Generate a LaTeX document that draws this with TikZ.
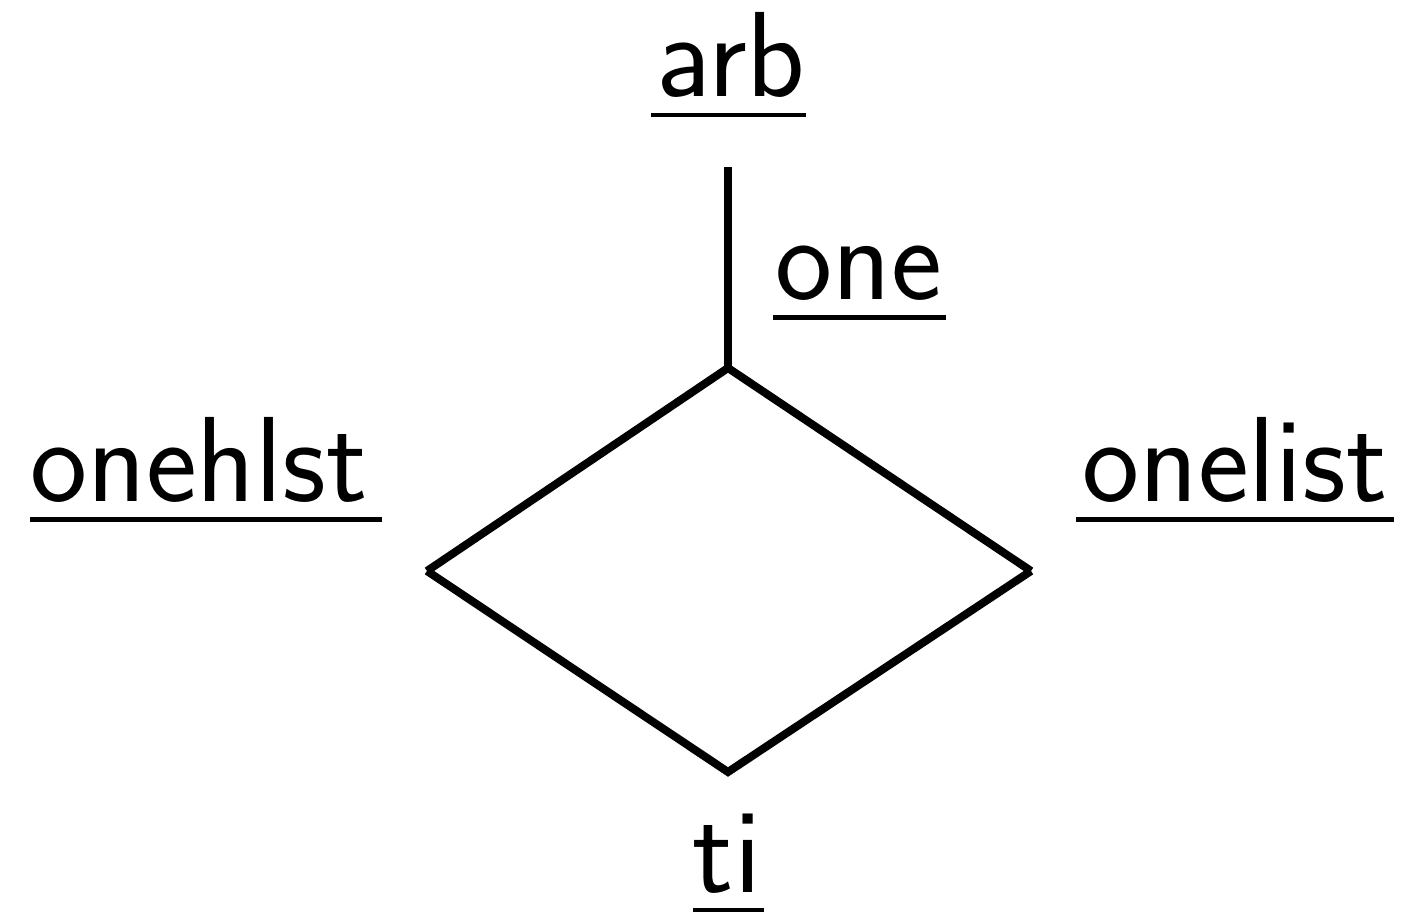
\documentclass[tikz,border=0pt]{standalone}
\begin{document}
\begin{tikzpicture}[x=0.25pt,y=-0.25pt,
  lbl/.style={inner sep=0pt,anchor=base,font=\fontsize{30.3}{36}\sffamily},
  uline/.style={line width=1.2pt,line cap=butt},
  edge/.style={line width=2pt,line cap=butt,line join=miter}]
\useasboundingbox (0,0) rectangle (1404,916);
\coordinate (stem) at (728,167);
\coordinate (t) at (728,368);
\coordinate (l) at (427,571);
\coordinate (r) at (1031,571);
\coordinate (b) at (728,772);
\node[lbl] (arb) at (731,97) {arb};
\node[lbl] (one) at (859,300) {one};
\node[lbl] (onehlst) at (199,502) {onehlst};
\node[lbl] (onelist) at (1235,502) {onelist};
\node[lbl] (ti) at (727,893) {ti};
\draw[uline] (651,115) -- (806,115);
\draw[uline] (773,317.5) -- (946,317.5);
\draw[uline] (30,519.5) -- (382,519.5);
\draw[uline] (1076,519.5) -- (1394,519.5);
\draw[uline] (693,910) -- (764,910);
\draw[edge] (stem) -- (t);
\draw[edge] (l) -- (t) -- (r);
\draw[edge] (l) -- (b) -- (r);
\end{tikzpicture}
\end{document}
